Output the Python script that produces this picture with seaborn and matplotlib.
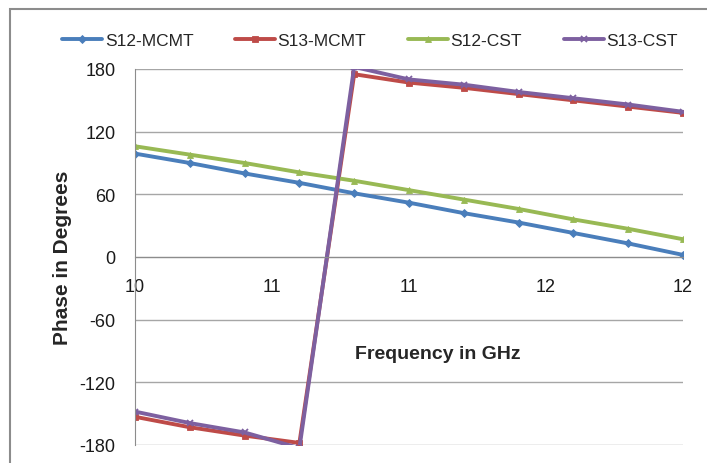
import pandas as pd
import matplotlib
matplotlib.use('Agg')
import matplotlib.pyplot as plt
from matplotlib.patches import Rectangle
import seaborn as sns

# frequency points (GHz) and phase values (degrees)
freq = [10.0, 10.2, 10.4, 10.6, 10.8, 11.0, 11.2, 11.4, 11.6, 11.8, 12.0]
s12_mcmt = [99, 90, 80, 71, 61, 52, 42, 33, 23, 13, 2]
s13_mcmt = [-153, -163, -171, -178, 175, 167, 162, 156, 150, 144, 138]
s12_cst = [106, 98, 90, 81, 73, 64, 55, 46, 36, 27, 17]
s13_cst = [-148, -159, -168, -183, 182, 170, 165, 158, 152, 146, 139]

names = ['S12-MCMT', 'S13-MCMT', 'S12-CST', 'S13-CST']
colors = ['#4A7EBB', '#BE4B48', '#98B954', '#7D60A0']
marks = ['D', 's', '^', 'x']

xticks = [10, 10.5, 11, 11.5, 12]
xtick_labels = ['10', '11', '11', '12', '12']
yticks = [-180, -120, -60, 0, 60, 120, 180]

sns.set_style('white')
plt.rcParams['font.family'] = ['Liberation Sans', 'DejaVu Sans']
plt.rcParams['axes.unicode_minus'] = False

fig = plt.figure(figsize=(7.07, 4.64), dpi=100)
ax = fig.add_axes([135/707, 1-446/464, (683-135)/707, (446-70)/464])

series = [s12_mcmt, s13_mcmt, s12_cst, s13_cst]
for vals, name, col, mk in zip(series, names, colors, marks):
    df = pd.DataFrame({'freq': freq, 'phase': vals})
    sns.lineplot(data=df, x='freq', y='phase', ax=ax, color=col, lw=2.8,
                 marker=mk, markersize=4.5 if mk != 'x' else 5,
                 markeredgewidth=1.3 if mk == 'x' else 0.6,
                 markeredgecolor=col, label=name)

ax.set_xlim(10, 12)
ax.set_ylim(-180, 180)
ax.set_yticks(yticks)
ax.set_xticks(xticks)
ax.set_xticklabels(xtick_labels)
ax.set_xlabel('')
ax.set_ylabel('')

ax.yaxis.grid(True, color='#a6a6a6', lw=1)
ax.set_axisbelow(True)
for s in ['top', 'right']:
    ax.spines[s].set_visible(False)
ax.spines['bottom'].set_position(('data', 0))
ax.spines['bottom'].set_color('#8c8c8c')
ax.spines['left'].set_color('#8c8c8c')
ax.tick_params(axis='both', labelsize=13, colors='#8c8c8c', labelcolor='#1a1a1a',
               direction='out', length=6, width=1)
ax.tick_params(axis='x', pad=9)
ax.tick_params(axis='y', pad=8)

handles, labels = ax.get_legend_handles_labels()
ax.get_legend().remove()
fig.legend(handles, labels, loc='center', bbox_to_anchor=(370/707, 1-41/464),
           ncol=4, frameon=False, fontsize=12.5, handlelength=2.3,
           handletextpad=0.15, columnspacing=2.4)

fig.text(62/707, 1-258/464, 'Phase in Degrees', rotation=90, ha='center',
         va='center', fontsize=15, fontweight='bold')
fig.text(438/707, 1-355/464, 'Frequency in GHz', ha='center', va='center',
         fontsize=14, fontweight='bold')

fig.add_artist(Rectangle((10/707, -0.1), 1.0, 1.1 - 10/464, transform=fig.transFigure,
                         fill=False, ec='#8c8c8c', lw=1.5))

fig.savefig('out.png', dpi=100)
